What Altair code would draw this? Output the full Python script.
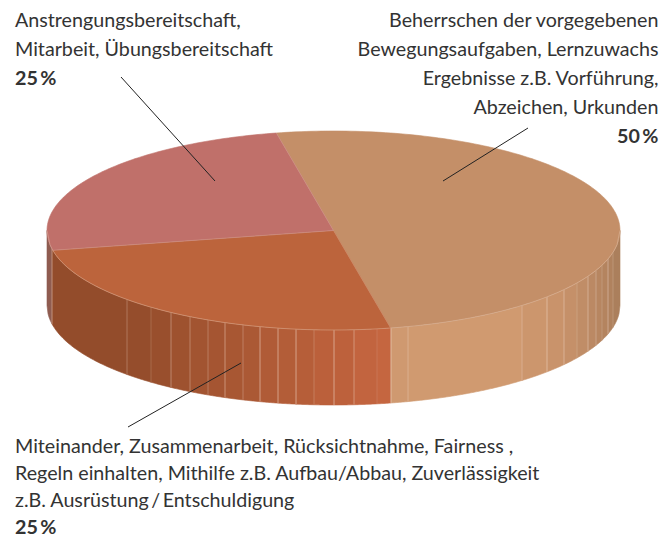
import math
import altair as alt

# --- values ---
shares = [50, 25, 25]
top_colors = ["#c48f68", "#bc643c", "#c0706a"]
start_deg = -11.5

cx, cy, rx, ry, depth = 333.5, 230.5, 286.5, 99.5, 75

facet_edges = [47, 52, 127, 151, 171, 190, 208, 225, 243, 260, 278, 296, 314, 334, 354, 377,
               391, 408, 522, 547, 564, 577, 588, 596, 602, 608, 613, 620]
facet_colors = ["#8f5c50", "#934c2b", "#954d2c", "#994f2d", "#9e522f", "#a25431", "#a55532",
                "#a85733", "#ab5935", "#b05b37", "#b35d38", "#b65e39", "#bb603b", "#bd613c",
                "#c2643f", "#c56640", "#cf9970", "#d09a70", "#cc966d", "#c9936b", "#c59069",
                "#c08d67", "#bb8964", "#b78661", "#b4845f", "#b0825e", "#ab7f5c"]
seam_opacity = [0.5, 0.3, 0.2, 0.4, 0.35, 0.3, 0.45, 0.3, 0.55, 0.55, 0.55, 0.25, 0.55, 0.4,
                0.15, 0.55, 0.35, 0.35, 0.5, 0.45, 0.25, 0.45, 0.35, 0.25, 0.45, 0.25]

label_lines = [
    ("Anstrengungsbereitschaft,", 15, 27, "left"),
    ("Mitarbeit, Übungsbereitschaft", 15, 56, "left"),
    ("Beherrschen der vorgegebenen", 658.5, 27, "right"),
    ("Bewegungsaufgaben, Lernzuwachs", 658.5, 56, "right"),
    ("Ergebnisse z.B. Vorführung,", 658.5, 85, "right"),
    ("Abzeichen, Urkunden", 658.5, 114, "right"),
    ("Miteinander, Zusammenarbeit, Rücksichtnahme, Fairness ,", 15, 453, "left"),
    ("Regeln einhalten, Mithilfe z.B. Aufbau/Abbau, Zuverlässigkeit", 15, 480, "left"),
    ("z.B. Ausrüstung\u2009/\u2009Entschuldigung", 15, 507, "left"),
]
share_labels = [
    ("25\u2009%", 15, 85, "left"),
    ("50\u2009%", 658.5, 143, "right"),
    ("25\u2009%", 15, 534, "left"),
]
leaders = [
    [[121, 77], [215, 181]],
    [[528, 128], [443, 181]],
    [[241, 363], [128, 427]],
]
FONT = "Lato"
TEXT = "#333333"


def rim(deg):
    a = math.radians(deg)
    return [cx + rx * math.sin(a), cy - ry * math.cos(a)]


def rim_y(x):
    u = max(0.0, 1 - ((x - cx) / rx) ** 2)
    return cy + ry * math.sqrt(u)


def feature(kind, coords, fill="#000000", op=1.0):
    return {"type": "Feature", "properties": {"fill": fill, "op": op},
            "geometry": {"type": kind, "coordinates": coords}}


# side wall facets
side = []
seams = []
for i, col in enumerate(facet_colors):
    x0, x1 = facet_edges[i], facet_edges[i + 1]
    n = max(2, int(x1 - x0))
    xs = [x0 + (x1 - x0) * k / n for k in range(n + 1)]
    upper = [[x, rim_y(x)] for x in xs]
    lower = [[x, rim_y(x) + depth] for x in reversed(xs)]
    side.append(feature("Polygon", [upper + lower + [upper[0]]], col))
    if 0 < i:
        seams.append(feature("LineString", [[x0, rim_y(x0)], [x0, rim_y(x0) + depth]],
                             op=seam_opacity[i - 1]))

# top wedges
tops = []
angle = start_deg
edges = []
for s, col in zip(shares, top_colors):
    sweep = 360 * s / sum(shares)
    n = int(sweep)
    arc = [rim(angle + sweep * k / n) for k in range(n + 1)]
    tops.append(feature("Polygon", [[[cx, cy]] + arc + [[cx, cy]]], col))
    edges.append(feature("LineString", [[cx, cy], arc[0]]))
    angle += sweep

front_rim = [feature("LineString", [[x, rim_y(x)] for x in range(47, 621, 3)])]

proj = dict(type="identity", scale=1, translate=[-8, -8])


def shapes(features, **kw):
    return alt.Chart(alt.Data(values=features)).mark_geoshape(**kw).project(**proj)


def filled(features):
    return shapes(features, strokeWidth=0.6).encode(
        fill=alt.Fill("properties.fill:N", scale=None, legend=None),
        stroke=alt.Stroke("properties.fill:N", scale=None, legend=None),
    )


def texts(rows, bold):
    data = [{"t": t, "x": x, "y": y} for t, x, y, _ in rows]
    align = rows[0][3]
    return alt.Chart(alt.Data(values=data)).mark_text(
        font=FONT, fontSize=19.7, fontWeight="bold" if bold else "normal",
        color=TEXT, align=align, baseline="alphabetic",
    ).encode(longitude="x:Q", latitude="y:Q", text="t:N").project(**proj)


layers = [
    filled(side),
    shapes(seams, filled=False, stroke="#f3dccd", strokeWidth=1).encode(
        strokeOpacity=alt.StrokeOpacity("properties.op:Q", scale=None, legend=None)),
    filled(tops),
    shapes(front_rim, filled=False, stroke="#ecd0bd", strokeWidth=0.8, strokeOpacity=0.45),
    shapes(edges, filled=False, stroke="#e8c8b4", strokeWidth=0.7, strokeOpacity=0.35),
    shapes([feature("LineString", l) for l in leaders], filled=False, stroke="#222222", strokeWidth=1),
]
for al in ("left", "right"):
    layers.append(texts([r for r in label_lines if r[3] == al], False))
    layers.append(texts([r for r in share_labels if r[3] == al], True))

chart = alt.layer(*layers).properties(
    width=651, height=531, padding=0, autosize=alt.AutoSizeParams(type="none")
).configure_view(stroke=None)

chart.save("out.html", embed_options={"renderer": "svg", "actions": False})
